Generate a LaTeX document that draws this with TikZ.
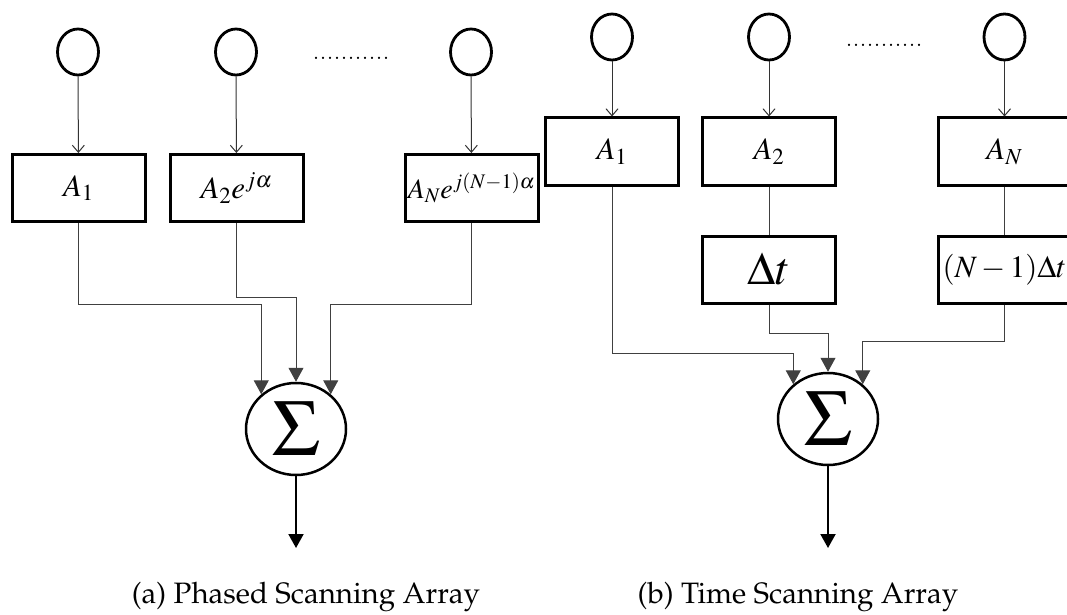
\documentclass[tikz,border=0pt]{standalone}
\usepackage{mathptmx}
\usetikzlibrary{shapes.geometric,arrows.meta}
\begin{document}
\begin{tikzpicture}[x=1pt,y=-1pt,
  ant/.style={draw, line width=2.8pt, ellipse, minimum width=41, minimum height=46, inner sep=0},
  blk/.style={draw, line width=3pt, minimum width=133, minimum height=67, inner sep=0, font=\fontsize{31}{36}\selectfont},
  sumnode/.style={draw, line width=2.5pt, ellipse, minimum width=100, minimum height=92, inner sep=0, font=\fontsize{80}{84}\selectfont},
  feed/.style={draw=black!80, line width=1pt, -{Straight Barb[length=7,width=12]}},
  wire/.style={draw=black!75, line width=1pt},
  inarrow/.style={wire, -{Triangle[length=14,width=15]}},
  outarrow/.style={line width=2pt, -{Triangle[length=14,width=15]}},
  dots/.style={font=\fontsize{28}{30}\selectfont, inner sep=0, anchor=base},
  capt/.style={font=\fontencoding{T1}\fontfamily{ppl}\fontsize{29.5}{32}\selectfont, inner sep=0}
]
\clip (0,0) rectangle (1067,615);
\useasboundingbox (0,0) rectangle (1067,615);
% ---------- left panel ----------
\node[ant] (l1) at (78,52) {};
\node[ant] (l2) at (236,52) {};
\node[ant] (lN) at (471,52) {};
\node[dots] (ldots) at (351,60) {...........};
\node[blk] (la1) at (78.5,188) {$A_1$};
\node[blk] (la2) at (236.5,188) {$A_2e^{j\alpha}$};
\node[blk, font=\fontsize{28}{32}\selectfont] (laN) at (471.5,188) {$A_Ne^{j(N-1)\alpha}$};
\node[sumnode] (ls) at (296,429) {$\Sigma$};
\coordinate (lout) at (296,548);
\draw[feed] (l1) -- (la1);
\draw[feed] (l2) -- (la2);
\draw[feed] (lN) -- (laN);
\draw[inarrow] (la1.south) |- ([yshift=90pt]ls.135) -- (ls.135);
\draw[inarrow] (la2.south) |- ([yshift=84pt]ls.north) -- (ls.north);
\draw[inarrow] (laN.south) |- ([yshift=90pt]ls.45) -- (ls.45);
\draw[outarrow] (ls.south) -- (lout);
\node[capt] (lcap) at (306,597) {(a) Phased Scanning Array};
% ---------- right panel ----------
\node[ant] (r1) at (612,37) {};
\node[ant] (r2) at (769,37) {};
\node[ant] (rN) at (1004.5,37) {};
\node[dots] (rdots) at (884,47) {...........};
\node[blk] (ra1) at (612,151.5) {$A_1$};
\node[blk] (ra2) at (769,151.5) {$A_2$};
\node[blk] (raN) at (1004.5,151.5) {$A_N$};
\node[blk, font=\fontsize{46}{50}\selectfont] (rd2) at (769,269.5) {$\Delta t$};
\node[blk] (rdN) at (1004.5,269.5) {$(N-1)\Delta t$};
\node[sumnode] (rs) at (828,419) {$\Sigma$};
\coordinate (rout) at (828,548);
\draw[feed] (r1) -- (ra1);
\draw[feed] (r2) -- (ra2);
\draw[feed] (rN) -- (raN);
\draw[wire] (ra2) -- (rd2);
\draw[wire] (raN) -- (rdN);
\draw[inarrow] (ra1.south) |- ([yshift=31pt]rs.135) -- (rs.135);
\draw[inarrow] (rd2.south) |- ([yshift=38pt]rs.north) -- (rs.north);
\draw[inarrow] (rdN.south) |- ([yshift=43pt]rs.45) -- (rs.45);
\draw[outarrow] (rs.south) -- (rout);
\node[capt] (rcap) at (798,597) {(b) Time Scanning Array};
\end{tikzpicture}
\end{document}
